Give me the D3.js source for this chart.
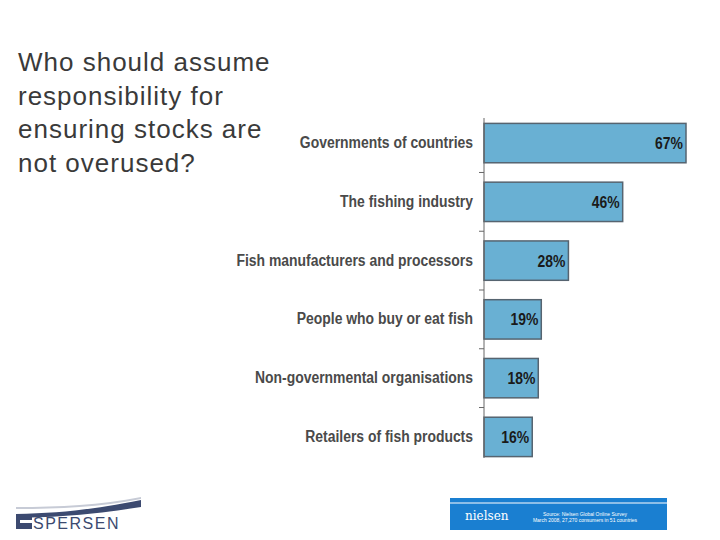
<!DOCTYPE html>
<html>
<head>
<meta charset="utf-8">
<script src="https://cdn.jsdelivr.net/npm/d3@7"></script>
<style>
body { margin: 0; background: #fff; }
</style>
</head>
<body>
<svg width="720" height="540"></svg>
<script>
const categories = ['Governments of countries', 'The fishing industry', 'Fish manufacturers and processors',
  'People who buy or eat fish', 'Non-governmental organisations', 'Retailers of fish products'];
const values = [67, 46, 28, 19, 18, 16];
const titleLines = ['Who should assume', 'responsibility for', 'ensuring stocks are', 'not overused?'];

let svg = d3.select('svg')

// title
svg.append('text')
  .attr('x', 18).attr('y', 71)
  .style('font-family', 'Liberation Sans, Arial, sans-serif')
  .style('font-size', '26px').style('letter-spacing', '1px').style('fill', '#3a3a3a')
  .selectAll('tspan').data(titleLines).enter().append('tspan')
  .attr('x', 18).attr('dy', (d, i) => i ? 33.5 : 0)
  .text(d => d)

let x = d3.scaleLinear().domain([0, 67]).range([484, 686])
let y = d3.scaleBand().domain(categories).range([114, 466]).paddingInner(0.33).paddingOuter(0.16)

svg.selectAll('rect.bar')
  .data(values).enter().append('rect')
  .attr('class', 'bar')
  .attr('x', x(0))
  .attr('y', (d, i) => y(categories[i]))
  .attr('width', d => x(d) - x(0))
  .attr('height', y.bandwidth())
  .style('fill', '#69b0d3').style('stroke', '#566470').style('stroke-width', 1.5)

// narrow text: squeeze horizontally around the anchor
let narrow = (sel, ax, ay, k) => sel.attr('transform', (d, i) => `translate(${ax(d, i)},${ay(d, i)}) scale(${k},1)`)

narrow(svg.selectAll('text.val')
  .data(values).enter().append('text')
  .attr('text-anchor', 'end')
  .style('font-family', 'Liberation Sans, Arial, sans-serif')
  .style('font-weight', 'bold').style('font-size', '17px').style('fill', '#1a1a1a')
  .text(d => d + '%'), d => x(d) - 3, (d, i) => y(categories[i]) + y.bandwidth() / 2 + 6, 0.82)

// axis with ticks between bands
let step = y.step()
let axisG = svg.append('g')
axisG.append('line').attr('x1', 484).attr('x2', 484).attr('y1', 118).attr('y2', 458)
  .style('stroke', '#666').style('stroke-width', 1)
categories.slice(1).forEach((c, i) => {
  let ty = y(c) - (step - y.bandwidth()) / 2
  axisG.append('line').attr('x1', 479).attr('x2', 484).attr('y1', ty).attr('y2', ty)
    .style('stroke', '#666')
})

narrow(svg.selectAll('text.cat')
  .data(categories).enter().append('text')
  .attr('text-anchor', 'end')
  .style('font-family', 'Liberation Sans, Arial, sans-serif')
  .style('font-weight', 'bold').style('font-size', '16px').style('fill', '#4a4a4a')
  .text(d => d), d => 473, d => y(d) + y.bandwidth() / 2 + 5, 0.87)

// Espersen logo
let logo = svg.append('g')
logo.append('path').attr('d', 'M16,514 C60,513 90,510 141,500 L141,507 C90,515 60,517 16,518 Z').style('fill', '#3c4a70')
logo.append('path').attr('d', 'M16,507 C60,507 100,505 141,497 L141,499 C100,507 60,509 16,509 Z').style('fill', '#c7cbd6')
logo.append('rect').attr('x', 16).attr('y', 516).attr('width', 16).attr('height', 13).style('fill', '#3c4a70')
logo.append('rect').attr('x', 20).attr('y', 520).attr('width', 12).attr('height', 3).style('fill', '#fff')
logo.append('text').attr('x', 33).attr('y', 529)
  .style('font-family', 'Liberation Sans, Arial, sans-serif').style('font-size', '16px')
  .style('letter-spacing', '1.5px').style('fill', '#3c4a70').text('SPERSEN')

// Nielsen banner
let nb = svg.append('g')
nb.append('rect').attr('x', 450).attr('y', 498).attr('width', 217).attr('height', 32).style('fill', '#1a7fd1')
nb.append('line').attr('x1', 450).attr('x2', 667).attr('y1', 503).attr('y2', 503).style('stroke', '#fff').style('stroke-width', 1)
nb.append('text').attr('x', 465).attr('y', 520)
  .style('font-family', 'DejaVu Serif, serif').style('font-size', '12px').style('fill', '#fff').text('nielsen')
nb.append('text').attr('x', 585).attr('y', 516).attr('text-anchor', 'middle')
  .style('font-family', 'Liberation Sans, sans-serif').style('font-size', '5px').style('fill', '#fff')
  .text('Source: Nielsen Global Online Survey')
nb.append('text').attr('x', 585).attr('y', 522).attr('text-anchor', 'middle')
  .style('font-family', 'Liberation Sans, sans-serif').style('font-size', '5px').style('fill', '#fff')
  .text('March 2008, 27,270 consumers in 51 countries')
</script>
</body>
</html>
